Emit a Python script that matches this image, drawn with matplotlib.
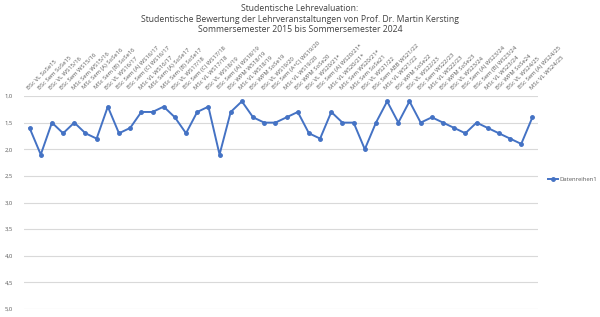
import matplotlib
matplotlib.use("Agg")
import matplotlib.pyplot as plt
from matplotlib.ticker import FuncFormatter

plt.rcParams['font.family'] = ['Open Sans', 'DejaVu Sans']

veranstaltungen = [
    "BSc VL SoSe15", "BSc Sem SoSe15", "BSc VL WS15/16", "BSc Sem WS15/16",
    "MSc Sem WS15/16", "MSc Sem (A) SoSe16", "MSc Sem (B) SoSe16", "BSc VL WS16/17",
    "BSc Sem (A) WS16/17", "BSc Sem (C) WS16/17", "MSc VL WS16/17", "MSc Sem (A) SoSe17",
    "MSc Sem (B) SoSe17", "BSc VL WS17/18", "BSc Sem (C) WS17/18", "MSc VL WS17/18",
    "BSc VL WS18/19", "BSc Sem (A) WS18/19", "BSc WPM WS18/19", "MSc VL WS18/19",
    "BSc WPM SoSe19", "BSc VL WS19/20", "BSc Sem (A+C) WS19/20", "MSc VL WS19/20",
    "BSc WPM SoSe20", "BSc VL WS20/21*", "BSc Sem (A) WS20/21*", "MSc VL WS20/21*",
    "MSc Sem WS20/21*", "MSc Sem SoSe21", "BSc VL WS21/22", "BSc Sem ABB WS21/22",
    "MSc VL WS21/22", "BSc WPM SoSe22", "BSc VL WS22/23", "BSc Sem WS22/23",
    "MSc VL WS22/23", "BSc WPM SoSe23", "BSc VL WS23/24", "BSc Sem (A) WS23/24",
    "BSc Sem (B) WS23/24", "MSc VL WS23/24", "BSc WPM SoSe24", "BSc VL WS24/25",
    "BSc Sem (A) WS24/25", "MSc VL WS24/25",
]

bewertung = [
    1.6, 2.1, 1.5, 1.7, 1.5, 1.7, 1.8, 1.2, 1.7, 1.6,
    1.3, 1.3, 1.2, 1.4, 1.7, 1.3, 1.2, 2.1, 1.3, 1.1,
    1.4, 1.5, 1.5, 1.4, 1.3, 1.7, 1.8, 1.3, 1.5, 1.5,
    2.0, 1.5, 1.1, 1.5, 1.1, 1.5, 1.4, 1.5, 1.6, 1.7,
    1.5, 1.6, 1.7, 1.8, 1.9, 1.4,
]

titel = ("Studentische Lehrevaluation:\n"
         "Studentische Bewertung der Lehrveranstaltungen von Prof. Dr. Martin Kersting\n"
         "Sommersemester 2015 bis Sommersemester 2024")

fig = plt.figure(figsize=(6, 3.17), dpi=100)
ax = fig.add_axes([24 / 600, 1 - 309 / 317, 514 / 600, 213 / 317])

x = list(range(len(bewertung)))
linie, = ax.plot(x, bewertung, color="#4472C4", lw=1.4, marker="o", ms=2.5,
                 label="Datenreihen1", zorder=3)

ax.set_xlim(-0.5, len(bewertung) - 0.5)
ax.set_ylim(5.0, 1.0)
ax.set_yticks([1.0, 1.5, 2.0, 2.5, 3.0, 3.5, 4.0, 4.5, 5.0])
ax.yaxis.set_major_formatter(FuncFormatter(lambda v, p: f"{v:.1f}".replace(".", ",")))
ax.grid(axis="y", color="#D9D9D9", lw=0.8)
ax.set_axisbelow(True)
for s in ax.spines.values():
    s.set_visible(False)

ax.xaxis.tick_top()
ax.set_xticks(x)
ax.set_xticklabels(veranstaltungen, rotation=45, ha="left", va="bottom",
                   rotation_mode="anchor", fontsize=4.2, color="#595959")
ax.tick_params(axis="x", length=0, pad=4)
ax.tick_params(axis="y", length=0, labelsize=4.2, labelcolor="#595959", pad=8)

fig.text(0.5, 1 - 4 / 317, titel, ha="center", va="top", fontsize=6.2,
         color="#404040", linespacing=1.25)

fig.legend(handles=[linie], loc="center left", bbox_to_anchor=(546 / 600, 1 - 179 / 317),
           frameon=False, fontsize=4.2, handlelength=1.6, labelcolor="#595959",
           borderaxespad=0, handletextpad=0.3)

fig.savefig("out.png", dpi=100)
